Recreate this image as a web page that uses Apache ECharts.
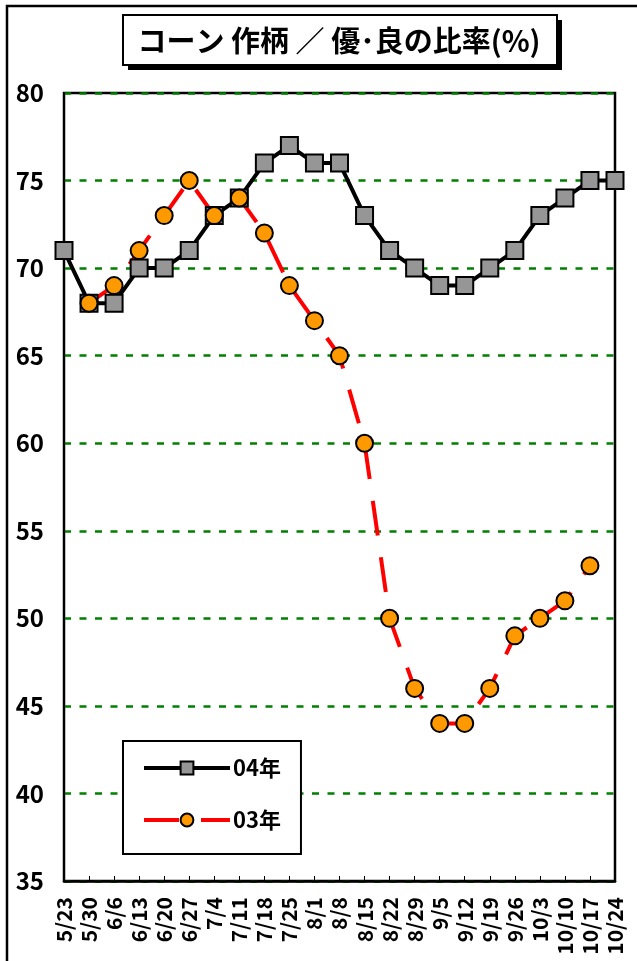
<!DOCTYPE html>
<html>
<head>
<meta charset="utf-8">
<script src="https://cdn.jsdelivr.net/npm/echarts@6/dist/echarts.min.js"></script>
<style>
html, body { margin: 0; padding: 0; background: #fff; }
#main { width: 637px; height: 961px; }
</style>
</head>
<body>
<div id="main"></div>
<script>
// 週ごとの日付
var weeks = ['5/23', '5/30', '6/6', '6/13', '6/20', '6/27', '7/4', '7/11', '7/18', '7/25', '8/1', '8/8',
    '8/15', '8/22', '8/29', '9/5', '9/12', '9/19', '9/26', '10/3', '10/10', '10/17', '10/24'];
// 04年
var y04 = [71, 68, 68, 70, 70, 71, 73, 74, 76, 77, 76, 76, 73, 71, 70, 69, 69, 70, 71, 73, 74, 75, 75];
// 03年
var y03 = ['-', 68, 69, 71, 73, 75, 73, 74, 72, 69, 67, 65, 60, 50, 46, 44, 44, 46, 49, 50, 51, 53, '-'];
var seriesNames = ['04年', '03年'];
var titleText = 'コーン 作柄 ／ 優･良の比率(%)';

var jp = "'Noto Sans CJK JP', sans-serif";
var line04 = { color: '#000', width: 4 };
var line03 = { color: '#ff0000', width: 4, type: [35, 22] };

var myChart = echarts.init(document.getElementById('main'));
myChart.setOption({
    backgroundColor: '#fff',
    animation: false,
    graphic: [
        // 外枠
        { type: 'polyline', shape: { points: [[7, 961], [7, 6], [637, 6]] }, style: { stroke: '#000', lineWidth: 2.5, fill: null } },
        // タイトル枠
        { type: 'rect', shape: { x: 128, y: 20, width: 434, height: 50 }, style: { fill: '#000' } },
        { type: 'rect', shape: { x: 123, y: 15, width: 434, height: 50 }, style: { fill: '#fff', stroke: '#000', lineWidth: 2 } },
        {
            type: 'text', x: 339, y: 41,
            style: {
                text: titleText, fill: '#000', align: 'center', verticalAlign: 'middle',
                font: "bold 29px 'Noto Sans CJK JP'"
            }
        }
    ],
    grid: {
        left: 64, right: 22, top: 93, bottom: 80,
        show: true, borderColor: '#000', borderWidth: 2.5, backgroundColor: '#fff'
    },
    legend: {
        orient: 'vertical',
        left: 123, top: 741,
        padding: [16, 20, 23, 19],
        itemGap: 30,
        itemWidth: 86, itemHeight: 16,
        backgroundColor: '#fff', borderColor: '#000', borderWidth: 2,
        data: [
            { name: seriesNames[0], lineStyle: line04 },
            { name: seriesNames[1], lineStyle: line03 }
        ],
        textStyle: { fontFamily: jp, fontWeight: 'bold', fontSize: 22, color: '#000', padding: [0, 0, 0, -2] }
    },
    xAxis: {
        type: 'category',
        data: weeks,
        boundaryGap: false,
        axisLine: { lineStyle: { color: '#000', width: 2.5 } },
        axisTick: { inside: true, length: 5, lineStyle: { color: '#000', width: 1 } },
        axisLabel: {
            rotate: 90, margin: 16, interval: 0,
            fontFamily: jp, fontWeight: 'bold', fontSize: 21, color: '#000'
        },
        splitLine: { show: false }
    },
    yAxis: {
        type: 'value',
        min: 35, max: 80, interval: 5,
        axisLine: { show: true, lineStyle: { color: '#000', width: 2 } },
        axisTick: { show: false },
        axisLabel: { margin: 20, fontFamily: jp, fontWeight: 'bold', fontSize: 24, color: '#000' },
        splitLine: { lineStyle: { color: '#008000', width: 2.5, type: [7, 8.5] } }
    },
    series: [{
        name: seriesNames[0],
        type: 'line',
        data: y04,
        symbol: 'rect',
        symbolSize: 17,
        lineStyle: line04,
        itemStyle: { color: '#969696', borderColor: '#000', borderWidth: 2 }
    }, {
        name: seriesNames[1],
        type: 'line',
        data: y03,
        symbol: 'circle',
        symbolSize: 17,
        lineStyle: line03,
        itemStyle: { color: '#ff9900', borderColor: '#000', borderWidth: 2 }
    }]
});
</script>
</body>
</html>
